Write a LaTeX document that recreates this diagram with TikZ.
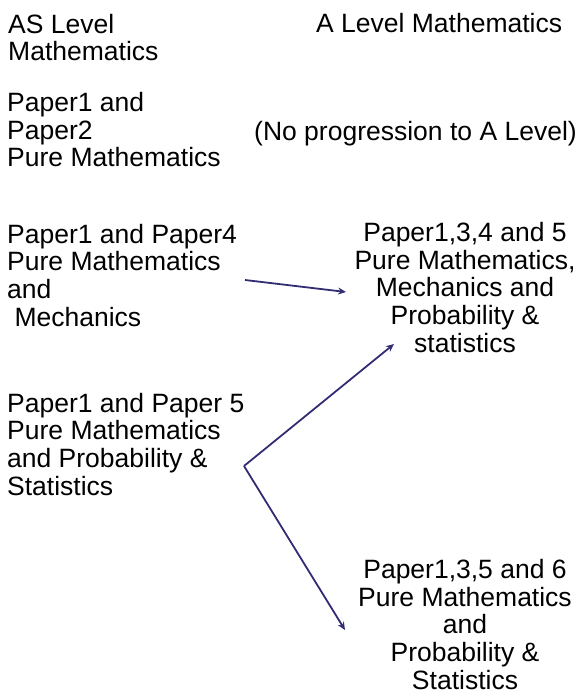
\documentclass[tikz,border=0pt]{standalone}
\usepackage{fontspec}
\setmainfont{Liberation Sans}
\usetikzlibrary{arrows.meta}
\definecolor{arrowblue}{RGB}{50,45,115}
\begin{document}
\begin{tikzpicture}[x=1pt,y=-1pt,
  every node/.style={inner sep=0pt, font=\fontsize{26.5}{27.6}\selectfont},
  lefttext/.style={anchor=base west, align=left},
  righttext/.style={anchor=base, align=center},
  link/.style={draw=arrowblue, line width=1.8pt, -{Stealth[length=8pt,width=7pt]}}]
\useasboundingbox (0,0) rectangle (581,695);
% headings (placed by the baseline of their last line)
\node[lefttext] (aslevel) at (8,61) {AS Level\\Mathematics};
\node[lefttext] (alevel) at (316,33) {A Level Mathematics};
% AS level routes
\node[lefttext] (pure) at (7,167) {Paper1 and\\Paper2\\Pure Mathematics};
\node[lefttext] (noprog) at (254,141) {(No progression to A Level)};
\node[lefttext] (mech) at (7,326) {Paper1 and Paper4\\Pure Mathematics\\and\\\ Mechanics};
\node[lefttext] (stats) at (7,495) {Paper1 and Paper 5\\Pure Mathematics\\and Probability \&\\Statistics};
% A level routes
\node[righttext] (mechstats) at (465,352) {Paper1,3,4 and 5\\Pure Mathematics,\\Mechanics and\ \\Probability \&\ \\statistics};
\node[righttext] (probstats) at (465,689) {Paper1,3,5 and 6\\Pure Mathematics\\and\\Probability \&\\Statistics};
% arrows
\coordinate (mechout) at (245,280);
\coordinate (statsout) at (244,466);
\coordinate (mechin) at (346,292);
\coordinate (statsin) at (394,344);
\coordinate (probin) at (345,630);
\draw[link] (mechout) -- (mechin);
\draw[link] (statsout) -- (statsin);
\draw[link] (statsout) -- (probin);
\end{tikzpicture}
\end{document}
